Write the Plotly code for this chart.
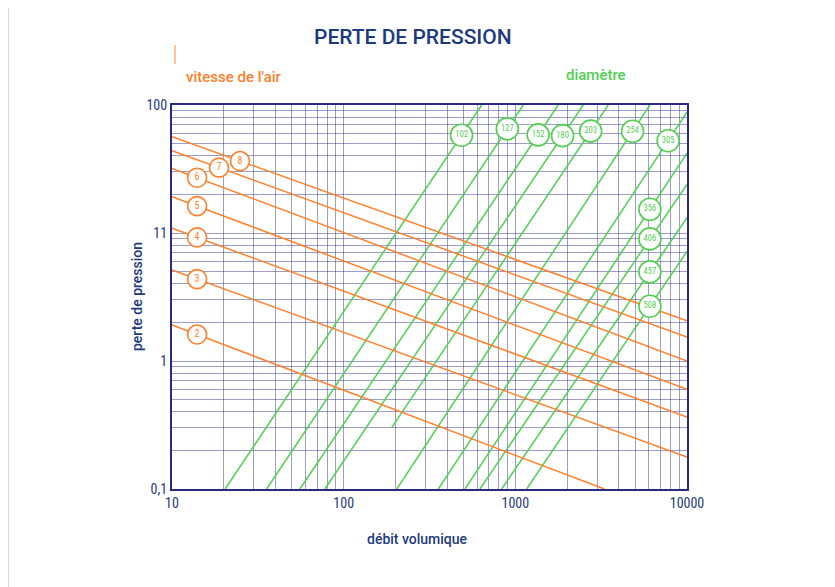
import numpy as np
import plotly.graph_objects as go

# ---- data ----
vel_labels = ["2", "3", "4", "5", "6", "7", "8"]
vel_q0 = [10, 10, 10, 10, 10, 10, 10]
vel_p0 = [1.91, 5.14, 10.9, 19.2, 32.0, 44.0, 56.5]
vel_q1 = [3300, 10000, 10000, 10000, 10000, 10000, 10000]
vel_p1 = [0.1, 0.178, 0.365, 0.60, 1.0, 1.54, 2.06]
vel_label_q = [14, 14, 14, 14, 14, 18.8, 24.9]

diam_labels = ["102", "127", "152", "180", "203", "254", "305", "356", "406", "457", "508"]
diam_q0 = [20.4, 35.6, 55.6, 77.8, 190, 204, 356, 509, 622, 832, 1164]
diam_p0 = [0.1, 0.1, 0.1, 0.1, 0.3, 0.1, 0.1, 0.1, 0.1, 0.1, 0.1]
diam_q1 = [637, 1112, 1778, 2484, 3475, 6080, 10000, 10000, 10000, 10000, 10000]
diam_p1 = [100, 100, 100, 100, 100, 100, 88, 42, 24, 13.2, 7.2]
diam_label_q = [486, 898, 1358, 1884, 2746, 4818, 7762, 6081, 6081, 6081, 6081]

x_tickvals = [10, 100, 1000, 10000]
x_ticktext = ["10", "100", "1000", "10000"]
y_tickvals = [0.1, 1, 10, 100]
y_ticktext = ["0,1", "1", "11", "100"]

ORANGE = "#ff7f2a"
GREEN = "#52cf52"
NAVY = "#1d3a7e"
GRID = "rgba(60,60,140,0.5)"
FONT = "Roboto, sans-serif"
FONT_C = "Roboto Condensed, Roboto, Liberation Sans Narrow, sans-serif"


def on_line(q, q0, p0, q1, p1):
    t = (np.log10(q) - np.log10(q0)) / (np.log10(q1) - np.log10(q0))
    return 10 ** (np.log10(p0) + t * (np.log10(p1) - np.log10(p0)))


fig = go.Figure()

for i in range(len(diam_labels)):
    fig.add_trace(go.Scatter(x=[diam_q0[i], diam_q1[i]], y=[diam_p0[i], diam_p1[i]],
                             mode="lines", line=dict(color=GREEN, width=1.5),
                             showlegend=False, hoverinfo="skip"))
for i in range(len(vel_labels)):
    fig.add_trace(go.Scatter(x=[vel_q0[i], vel_q1[i]], y=[vel_p0[i], vel_p1[i]],
                             mode="lines", line=dict(color=ORANGE, width=1.5),
                             showlegend=False, hoverinfo="skip"))

# circle labels
vy = [on_line(vel_label_q[i], vel_q0[i], vel_p0[i], vel_q1[i], vel_p1[i]) for i in range(len(vel_labels))]
fig.add_trace(go.Scatter(x=vel_label_q, y=vy, mode="markers+text", text=vel_labels,
                         textposition="middle center",
                         textfont=dict(color=ORANGE, size=10, family=FONT_C),
                         marker=dict(size=19, color="white", line=dict(color=ORANGE, width=1.6)),
                         showlegend=False, hoverinfo="skip"))
dy = [on_line(diam_label_q[i], diam_q0[i], diam_p0[i], diam_q1[i], diam_p1[i]) for i in range(len(diam_labels))]
fig.add_trace(go.Scatter(x=diam_label_q, y=dy, mode="markers+text", text=diam_labels,
                         textposition="middle center",
                         textfont=dict(color=GREEN, size=8.5, family=FONT_C),
                         marker=dict(size=22, color="white", line=dict(color=GREEN, width=1.6)),
                         showlegend=False, hoverinfo="skip"))

x_minor = [m * 10 ** e for e in range(1, 4) for m in range(2, 10)]
y_minor = [m * 10 ** e for e in range(-1, 2) for m in range(2, 10)]

fig.update_xaxes(type="log", range=[1, 4], tickvals=x_tickvals, ticktext=x_ticktext,
                 showgrid=True, gridcolor=GRID, gridwidth=1,
                 minor=dict(tickvals=x_minor, showgrid=True, gridcolor=GRID, gridwidth=1),
                 showline=True, linecolor="#2a2a85", linewidth=2, mirror=True,
                 ticks="", tickfont=dict(color=NAVY, size=14, family=FONT_C),
                 zeroline=False)
fig.update_yaxes(type="log", range=[-1, 2], tickvals=y_tickvals, ticktext=y_ticktext,
                 showgrid=True, gridcolor=GRID, gridwidth=1,
                 minor=dict(tickvals=y_minor, showgrid=True, gridcolor=GRID, gridwidth=1),
                 showline=True, linecolor="#2a2a85", linewidth=2, mirror=True,
                 ticks="", tickfont=dict(color=NAVY, size=14, family=FONT_C),
                 zeroline=False)

W, H = 835, 587
OFF = 8  # page offset of the figure in the browser window
L, T = 172 - OFF, 105 - OFF
PW, PH = 515, 384
R = W - L - PW
B = H - T - PH


def px(xp):
    return (xp - OFF - L) / PW


def py(yp):
    return (T + PH - (yp - OFF)) / PH


annotations = [
    dict(text="PERTE DE PRESSION", x=px(413), y=py(37), xref="paper", yref="paper",
         showarrow=False, font=dict(color=NAVY, size=21, family=FONT, weight=500),
         xanchor="center", yanchor="middle"),
    dict(text="vitesse de l'air", x=px(184), y=py(77), xref="paper", yref="paper",
         showarrow=False, font=dict(color=ORANGE, size=15, family=FONT, weight=500),
         xanchor="left", yanchor="middle"),
    dict(text="diamètre", x=px(596), y=py(75), xref="paper", yref="paper",
         showarrow=False, font=dict(color=GREEN, size=15, family=FONT, weight=500),
         xanchor="center", yanchor="middle"),
    dict(text="débit volumique", x=px(417), y=py(539), xref="paper", yref="paper",
         showarrow=False, font=dict(color=NAVY, size=14, family=FONT, weight=500),
         xanchor="center", yanchor="middle"),
    dict(text="perte de pression", x=px(137), y=py(297), xref="paper", yref="paper", textangle=-90,
         showarrow=False, font=dict(color=NAVY, size=14, family=FONT, weight=500),
         xanchor="center", yanchor="middle"),
]

shapes = [
    dict(type="rect", xref="paper", yref="paper", x0=px(8), x1=px(900), y0=py(5), y1=py(700),
         line=dict(color="#c9c9e2", width=1.5), fillcolor="rgba(0,0,0,0)", layer="below"),
    dict(type="line", xref="paper", yref="paper", x0=px(175), x1=px(175), y0=py(45), y1=py(64),
         line=dict(color="#ffb27a", width=1.5)),
]

fig.update_layout(width=W, height=H, margin=dict(l=L, r=R, t=T, b=B),
                  paper_bgcolor="white", plot_bgcolor="white",
                  annotations=annotations, shapes=shapes,
                  font=dict(family=FONT))

fig.write_html("out.html")
